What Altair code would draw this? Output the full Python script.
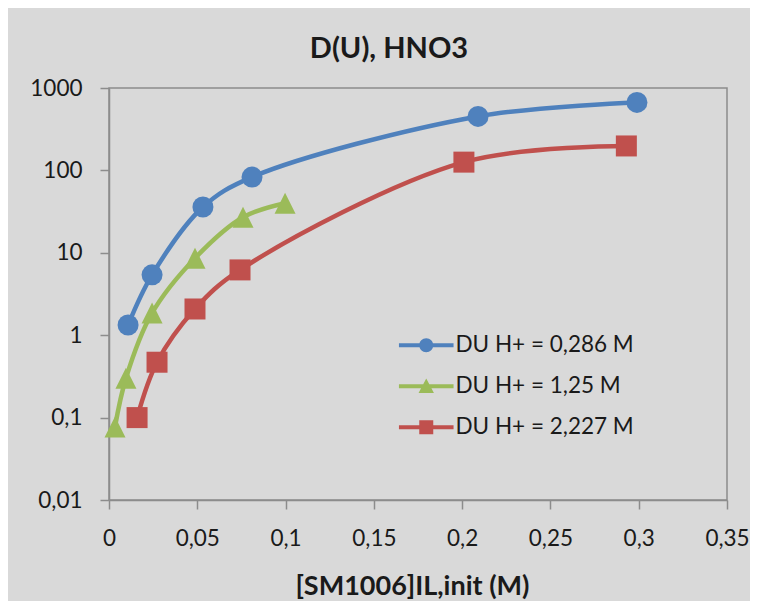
import altair as alt
import pandas as pd

# ---- data ----
series_names = ["DU H+ = 0,286 M", "DU H+ = 1,25 M", "DU H+ = 2,227 M"]
series_colors = ["#4f81bd", "#9bbb59", "#c0504d"]

x_blue = [0.0108, 0.0244, 0.0532, 0.081, 0.209, 0.299]
y_blue = [1.33, 5.4, 36, 83, 452, 668]
x_green = [0.0034, 0.0096, 0.0244, 0.0487, 0.0759, 0.0997]
y_green = [0.077, 0.30, 1.86, 8.6, 27, 40]
x_red = [0.0159, 0.0272, 0.0487, 0.0742, 0.201, 0.293]
y_red = [0.10, 0.47, 2.08, 6.2, 126, 198]

x_ticks = [0, 0.05, 0.1, 0.15, 0.2, 0.25, 0.3, 0.35]
y_ticks = [0.01, 0.1, 1, 10, 100, 1000]

chart_title = "D(U), HNO3"
x_title = "[SM1006]IL,init (M)"

# ---- table ----
rows = []
for name, xs, ys in zip(series_names, [x_blue, x_green, x_red], [y_blue, y_green, y_red]):
    for i, (xv, yv) in enumerate(zip(xs, ys)):
        rows.append({"series": name, "x": xv, "y": yv, "idx": i})
df = pd.DataFrame(rows)

FONT = "Lato"
TXT = "#1a1a1a"
GRID = "#8c8c8c"
LABEL_SIZE = 22.5

marker_shapes = ["circle", "M0,-1L1,1L-1,1Z", "square"]
bar = "M-3.9,-0.3H3.9V0.3H-3.9Z"
legend_shapes = [
    bar + "M-1,0A1,1 0 1,1 1,0A1,1 0 1,1 -1,0Z",
    bar + "M0,-1.1L1.1,0.95L-1.1,0.95Z",
    bar + "M-1,-1H1V1H-1Z",
]

label_expr = "replace(format(datum.value, '~g'), '.', ',')"

x_enc = alt.X(
    "x:Q",
    scale=alt.Scale(domain=[0, 0.35], nice=False, zero=False),
    axis=alt.Axis(
        values=x_ticks, labelExpr=label_expr, title=x_title, grid=False,
        tickSize=9, tickColor=GRID, domainColor=GRID, domainWidth=1.5, tickWidth=1.5,
        labelPadding=18, labelFont=FONT, labelFontSize=LABEL_SIZE, labelColor=TXT,
        labelFlush=False, labelOverlap=False,
        titleFont=FONT, titleFontSize=27, titleFontWeight="bold", titleColor=TXT,
        titleX=303, titleY=86, titleBaseline="middle", titleAlign="center",
    ),
)
y_enc = alt.Y(
    "y:Q",
    scale=alt.Scale(type="log", domain=[0.01, 1000], nice=False),
    axis=alt.Axis(
        values=y_ticks, labelExpr=label_expr, title=None, grid=False,
        tickSize=9, tickColor=GRID, domainColor=GRID, domainWidth=1.5, tickWidth=1.5,
        labelPadding=18, labelFont=FONT, labelFontSize=LABEL_SIZE, labelColor=TXT,
        labelFlush=False, labelOverlap=False,
    ),
)

color_scale = alt.Scale(domain=series_names, range=series_colors)

base = alt.Chart(df)

lines = base.mark_line(interpolate="catmull-rom", strokeWidth=4.5).encode(
    x=x_enc, y=y_enc,
    color=alt.Color("series:N", scale=color_scale, legend=None),
    order="idx:Q",
)

points = base.mark_point(filled=True, size=441, opacity=1, strokeWidth=0).encode(
    x=x_enc, y=y_enc,
    color=alt.Color("series:N", scale=color_scale, legend=None),
    shape=alt.Shape("series:N", scale=alt.Scale(domain=series_names, range=marker_shapes), legend=None),
)

legend_props = dict(
    orient="none", legendX=306, legendY=246, title=None, padding=0,
    symbolSize=196, symbolStrokeWidth=0, symbolOpacity=1,
    labelFont=FONT, labelFontSize=LABEL_SIZE, labelColor=TXT, labelOffset=18,
    rowPadding=18, labelLimit=400,
)

legend_layer = base.transform_filter("datum.x < 0").mark_point(filled=True, strokeWidth=0).encode(
    color=alt.Color("series:N", scale=color_scale, legend=alt.Legend(**legend_props)),
    shape=alt.Shape("series:N", scale=alt.Scale(domain=series_names, range=legend_shapes),
                    legend=alt.Legend(**legend_props)),
)

chart = (
    alt.layer(lines, points, legend_layer)
    .resolve_scale(color="independent", shape="independent")
    .properties(
        width=618, height=412,
        title=alt.TitleParams(chart_title, font=FONT, fontSize=29, fontWeight="bold",
                              color=TXT, anchor="middle", dx=-29, offset=13),
        background="#d9d9d9",
        autosize=alt.AutoSizeParams(type="none"),
        padding={"left": 101, "top": 80, "right": 23, "bottom": 101},
    )
    .configure_view(fill="white", stroke=GRID, strokeWidth=1.5)
)

chart.save("out.html", embed_options={"renderer": "svg", "actions": False})
